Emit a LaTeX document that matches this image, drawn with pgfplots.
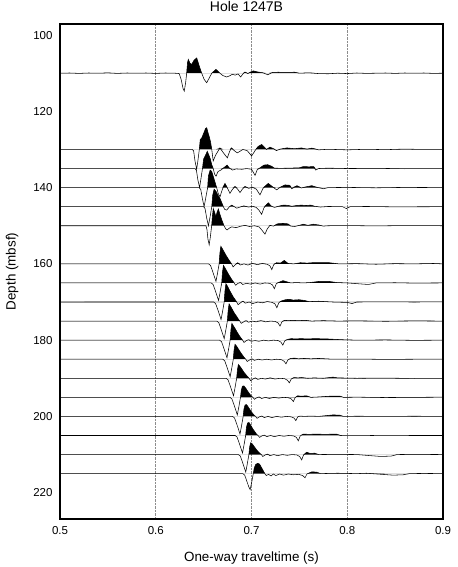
\documentclass[border=0pt]{standalone}
\usepackage{pgfplots}
\pgfplotsset{compat=1.18}
\usepackage{pgfplotstable}
\usepackage{fontspec}
\setmainfont{Liberation Sans}

\pgfplotstableread{
t a
0.500 0
0.510 0.05
0.520 -0.05
0.530 0.05
0.540 0
0.550 0.08
0.560 -0.05
0.570 0.05
0.580 0
0.590 0.05
0.600 -0.05
0.610 0.05
0.620 0
0.6245 -0.1
0.6265 -1.6
0.6285 -4.0
0.6298 -4.7
0.6312 -2.5
0.6323 0
0.6332 2.8
0.6340 3.6
0.6358 2.6
0.6375 2.3
0.6400 3.4
0.6428 4.0
0.6455 1.8
0.6480 0
0.6505 -1.6
0.6532 -2.5
0.6560 -1.2
0.6585 0
0.6629 1.0
0.6670 0
0.6700 -0.6
0.6741 -1.0
0.6770 -0.7
0.6800 -0.3
0.6830 -0.5
0.6860 -0.2
0.6887 -1.0
0.6910 -0.2
0.6932 0.3
0.6963 -0.1
0.6990 0.3
0.7019 0.6
0.7050 0.4
0.7071 0.3
0.7120 0.1
0.7170 -0.4
0.7220 0.2
0.7280 0.25
0.7350 0.2
0.7450 0.25
0.7500 0
0.7600 0.1
0.7700 -0.1
0.7800 -0.15
0.7900 0
0.8000 -0.1
0.8100 0.05
0.8200 -0.05
0.8300 0
0.8400 0.05
0.8500 -0.05
0.8600 0.05
0.8700 0
0.8800 0.05
0.8900 -0.05
0.9000 0
}\tA

\pgfplotstableread{
t a
0.500 0
0.638 0
0.6395 -0.3
0.641 -3.0
0.6427 -5.2
0.644 -3.0
0.6455 0
0.6465 2.6
0.6480 3.0
0.6500 4.2
0.6520 5.5
0.6532 5.7
0.6545 4.5
0.6560 3.2
0.6572 2.0
0.6585 0
0.6600 -3.0
0.6625 -1.5
0.6670 0.4
0.6710 -1.0
0.6748 -2.2
0.6770 -0.6
0.6790 0.4
0.6820 -0.3
0.6852 -0.9
0.6910 0
0.6955 -0.3
0.7001 -1.7
0.7040 -0.2
0.7070 0.8
0.7106 1.3
0.7135 0.6
0.7155 0
0.7193 0.6
0.7230 0.2
0.7260 -0.3
0.7300 0.1
0.7370 0.4
0.7450 0.2
0.7520 0.4
0.7580 0.1
0.7630 0.35
0.7700 -0.1
0.7800 0.05
0.8000 -0.1
0.8200 0.05
0.8400 -0.05
0.8600 0.1
0.8800 0
0.9000 0.05
}\tB

\pgfplotstableread{
t a
0.500 0
0.641 0
0.6425 -0.5
0.644 -3.0
0.6458 -5.0
0.647 -3.0
0.6488 0
0.650 2.5
0.652 3.5
0.6538 4.5
0.6555 3.5
0.657 2.5
0.6585 1.0
0.660 0
0.6615 -1.5
0.663 -2.0
0.665 -0.8
0.668 -0.4
0.671 0.2
0.6745 0.9
0.677 0.1
0.680 -0.4
0.684 -0.1
0.690 -0.2
0.695 0
0.700 -0.2
0.7015 -0.8
0.7037 -1.8
0.706 -0.3
0.709 0.2
0.713 0.9
0.717 1.0
0.721 0.6
0.724 0.1
0.730 0.05
0.740 0.1
0.750 0.2
0.754 0.5
0.760 0.45
0.765 0.5
0.767 -0.4
0.770 0
0.780 0.1
0.800 0
0.830 0.05
0.860 -0.05
0.900 0
}\tC

\pgfplotstableread{
t a
0.500 0
0.6455 0
0.647 -0.5
0.6488 -3.0
0.6505 -5.0
0.652 -3.0
0.6542 0
0.655 3.0
0.6568 4.6
0.6585 4.2
0.660 3.0
0.6618 1.5
0.6636 0
0.6652 -1.5
0.6671 -2.4
0.6695 -0.5
0.6723 1.1
0.675 -0.2
0.6775 -1.5
0.680 -0.5
0.6828 0.3
0.6855 -0.4
0.688 -1.3
0.6905 -0.4
0.6932 0.3
0.697 -0.2
0.701 0.1
0.705 -0.4
0.7089 -1.9
0.712 -0.2
0.7175 1.1
0.722 0.2
0.7263 -0.6
0.730 0.1
0.735 0.7
0.740 0.6
0.742 -0.3
0.7475 0.5
0.752 -0.1
0.757 0.2
0.763 0.5
0.768 0.1
0.775 -0.3
0.780 0
0.800 0.05
0.830 -0.05
0.860 0.05
0.900 0
}\tD

\pgfplotstableread{
t a
0.500 0
0.650 0
0.6515 -0.5
0.6532 -3.0
0.655 -5.0
0.6565 -3.0
0.6585 0
0.6595 3.0
0.661 4.6
0.663 4.0
0.665 3.0
0.667 2.2
0.669 1.0
0.6706 0
0.672 -0.7
0.6741 -0.9
0.677 0
0.6794 0.4
0.682 0
0.6846 -0.4
0.688 -0.1
0.692 0.2
0.697 -0.1
0.701 0.1
0.705 -0.2
0.708 -1.0
0.7106 -2.0
0.713 -0.3
0.7175 1.0
0.721 0.1
0.724 -0.2
0.728 0.1
0.733 0.4
0.738 0.35
0.742 0.1
0.747 0.3
0.752 0.4
0.757 0.3
0.762 0.4
0.766 0.1
0.772 -0.1
0.780 0.05
0.795 0
0.799 -0.5
0.803 0
0.820 0.05
0.850 -0.05
0.900 0
}\tE

\pgfplotstableread{
t a
0.500 0
0.6525 0
0.6535 -1.0
0.6545 -3.5
0.6558 -5.0
0.657 -3.0
0.6584 0
0.6592 2.5
0.6601 4.5
0.6615 3.5
0.6628 2.4
0.664 3.5
0.6654 4.4
0.667 3.0
0.669 1.5
0.6713 0
0.673 -0.8
0.6745 -1.1
0.677 -0.6
0.6794 -0.3
0.684 -0.5
0.689 -0.1
0.6932 0.1
0.698 -0.2
0.703 0
0.708 -0.3
0.711 -1.2
0.7141 -2.2
0.7165 -0.8
0.7193 0.1
0.723 -0.1
0.727 0.5
0.733 0.6
0.738 0.5
0.741 -0.1
0.745 -0.2
0.750 0.1
0.754 0.4
0.759 0.1
0.7645 0.4
0.770 0.2
0.775 -0.1
0.780 0
0.800 0.05
0.830 -0.05
0.860 0.05
0.900 0
}\tF

\pgfplotstableread{
t a
0.500 0
0.6552 0
0.6572 -0.4
0.6592 -1.8
0.6612 -3.3
0.6629 -4.6
0.6644 -2.6
0.6662 0
0.6670 2.8
0.6680 4.6
0.6697 3.9
0.6717 3.0
0.6737 2.1
0.6757 1.3
0.6777 0.55
0.6792 0
0.6807 -0.8
0.6832 -0.2
0.6857 0.3
0.6882 -0.3
0.6922 0
0.6962 -0.3
0.7012 0.1
0.7062 -0.2
0.7112 0.1
0.7162 -0.1
0.7192 -0.5
0.7212 -1.5
0.7232 -0.2
0.7262 0.3
0.7302 0.2
0.7342 0.9
0.7382 0.1
0.7442 0
0.7512 0.3
0.7582 0.2
0.7662 0.35
0.7812 0.3
0.7912 0
0.810 0.05
0.830 -0.1
0.850 0.05
0.870 0
0.890 0.1
0.900 0
}\tG

\pgfplotstableread{
t a
0.500 0
0.6579 0
0.6599 -0.4
0.6619 -1.8
0.6639 -3.3
0.6656 -4.6
0.6671 -2.6
0.6689 0
0.6697 2.8
0.6707 4.6
0.6724 3.9
0.6744 3.0
0.6764 2.1
0.6784 1.3
0.6804 0.55
0.6819 0
0.6834 -0.6
0.6859 -0.1
0.6884 0.1
0.6909 -0.4
0.6949 -0.1
0.6989 -0.3
0.7039 0
0.7089 -0.3
0.7139 0
0.7189 -0.1
0.7219 -0.5
0.7239 -1.5
0.7259 -0.2
0.7289 0.2
0.7329 0.6
0.7369 0.3
0.7409 0
0.7469 0.1
0.7539 0
0.7609 0.1
0.7709 0.4
0.7809 0.4
0.789 0.1
0.800 0
0.822 -0.4
0.830 0
0.850 0.05
0.870 -0.05
0.900 0
}\tH

\pgfplotstableread{
t a
0.500 0
0.6605 0
0.6625 -0.4
0.6645 -1.8
0.6665 -3.3
0.6682 -4.6
0.6697 -2.6
0.6715 0
0.6723 2.9
0.6733 4.8
0.6750 4.1
0.6770 3.1
0.6790 2.2
0.6810 1.3
0.6830 0.6
0.6845 0
0.6860 -0.7
0.6885 -0.2
0.6910 0.2
0.6935 -0.3
0.6975 0
0.7015 -0.4
0.7065 0
0.7115 -0.2
0.7165 0.1
0.7215 -0.1
0.7245 -0.5
0.7265 -1.5
0.7285 -0.2
0.7315 0.3
0.7355 0.6
0.7395 0.7
0.7435 0.5
0.7495 0.6
0.7555 0.4
0.7600 0.1
0.770 0.2
0.785 0
0.800 -0.1
0.805 -0.4
0.810 0
0.840 0.05
0.870 0
0.900 0.05
}\tI

\pgfplotstableread{
t a
0.500 0
0.6638 0
0.6658 -0.4
0.6678 -1.8
0.6698 -3.3
0.6715 -4.6
0.6730 -2.6
0.6748 0
0.6756 2.7
0.6766 4.5
0.6783 3.8
0.6803 2.9
0.6823 2.0
0.6843 1.3
0.6863 0.5
0.6878 0
0.6893 -0.6
0.6918 -0.2
0.6943 0.1
0.6968 -0.3
0.7008 0
0.7048 -0.2
0.7098 0.1
0.7148 -0.2
0.7198 0
0.7248 -0.1
0.7278 -0.5
0.7298 -1.3
0.7318 -0.2
0.7348 0.2
0.7388 0.1
0.7428 0.2
0.7488 0.1
0.7558 0.2
0.7628 0
0.775 0.1
0.790 0
0.810 0.05
0.840 -0.05
0.870 0.05
0.900 0
}\tJ

\pgfplotstableread{
t a
0.500 0
0.6667 0
0.6687 -0.4
0.6707 -1.8
0.6727 -3.3
0.6744 -4.6
0.6759 -2.6
0.6777 0
0.6785 2.6
0.6795 4.4
0.6812 3.7
0.6832 2.9
0.6852 2.0
0.6872 1.2
0.6892 0.5
0.6907 0
0.6922 -0.6
0.6947 -0.1
0.6972 0.1
0.6997 -0.3
0.7037 -0.1
0.7077 -0.3
0.7127 0
0.7177 -0.2
0.7227 0
0.7277 -0.1
0.7307 -0.5
0.7327 -1.3
0.7347 -0.2
0.7377 0.2
0.7417 0.4
0.7457 0.3
0.7517 0.4
0.7587 0.3
0.7657 0.4
0.7800 0.3
0.7958 0.1
0.810 0
0.840 0.05
0.870 -0.05
0.900 0
}\tK

\pgfplotstableread{
t a
0.500 0
0.6700 0
0.6720 -0.4
0.6740 -1.8
0.6760 -3.3
0.6777 -4.6
0.6792 -2.6
0.6810 0
0.6818 2.4
0.6828 3.9
0.6845 3.4
0.6865 2.6
0.6885 1.8
0.6905 1.1
0.6925 0.4
0.6940 0
0.6955 -0.6
0.6980 -0.2
0.7005 0.1
0.7030 -0.3
0.7070 0
0.7110 -0.2
0.7160 0
0.7210 -0.2
0.7260 0
0.7310 -0.1
0.7340 -0.5
0.7360 -1.2
0.7380 -0.2
0.7410 0.2
0.7450 0.3
0.7490 0.1
0.7550 0.2
0.7620 0.1
0.7700 0.2
0.785 0
0.810 0.05
0.840 -0.05
0.870 0
0.900 0.05
}\tL

\pgfplotstableread{
t a
0.500 0
0.6735 0
0.6755 -0.4
0.6775 -1.8
0.6795 -3.3
0.6812 -4.6
0.6827 -2.6
0.6845 0
0.6853 2.2
0.6863 3.6
0.6880 3.1
0.6900 2.4
0.6920 1.6
0.6940 1.0
0.6960 0.4
0.6975 0
0.6990 -0.6
0.7015 -0.2
0.7040 0.1
0.7065 -0.3
0.7105 0
0.7145 -0.2
0.7195 0.1
0.7245 -0.2
0.7295 0
0.7345 -0.1
0.7375 -0.5
0.7395 -1.2
0.7415 -0.2
0.7445 0.2
0.7485 0.1
0.7525 0.2
0.7585 0
0.7655 0.1
0.7750 0
0.7850 0.3
0.7900 0.1
0.810 0
0.840 0.05
0.870 -0.05
0.900 0
}\tM

\pgfplotstableread{
t a
0.500 0
0.6775 0
0.6795 -0.4
0.6815 -1.8
0.6835 -3.3
0.6852 -4.6
0.6867 -2.6
0.6885 0
0.6893 1.8
0.6905 2.9
0.6920 3.0
0.6940 2.4
0.6960 1.6
0.6980 0.9
0.7000 0.3
0.7015 0
0.7030 -0.5
0.7055 -0.1
0.7080 0.1
0.7105 -0.3
0.7145 0
0.7185 -0.3
0.7235 0
0.7285 -0.2
0.7335 0
0.7385 -0.1
0.7415 -0.4
0.7437 -1.1
0.7455 -0.1
0.7480 0.4
0.7520 0.3
0.7576 0.4
0.7620 0
0.7700 0.1
0.7820 0.3
0.7925 0.3
0.7960 0
0.810 0.05
0.840 -0.05
0.870 0
0.900 0.05
}\tN

\pgfplotstableread{
t a
0.500 0
0.6803 0
0.6823 -0.4
0.6843 -1.8
0.6863 -3.3
0.6880 -4.6
0.6895 -2.6
0.6913 0
0.6921 1.9
0.6933 3.0
0.6948 3.1
0.6968 2.4
0.6988 1.6
0.7008 0.9
0.7028 0.3
0.7043 0
0.7058 -0.5
0.7083 -0.1
0.7108 0.1
0.7133 -0.3
0.7173 0
0.7213 -0.3
0.7263 0
0.7313 -0.2
0.7363 0
0.7413 -0.1
0.7443 -0.4
0.7463 -1.1
0.7483 -0.1
0.7510 0.1
0.7550 0
0.7620 0.1
0.7700 0
0.7855 0.4
0.7925 0.3
0.7960 0
0.810 0.05
0.840 0
0.870 0.05
0.900 0
}\tO

\pgfplotstableread{
t a
0.500 0
0.6829 0
0.6849 -0.4
0.6869 -1.8
0.6889 -3.3
0.6906 -4.6
0.6921 -2.6
0.6939 0
0.6947 2.1
0.6959 3.3
0.6974 3.4
0.6994 2.6
0.7014 1.7
0.7034 1.0
0.7054 0.3
0.7069 0
0.7084 -0.5
0.7109 -0.1
0.7134 0.1
0.7159 -0.3
0.7199 0
0.7239 -0.3
0.7289 0
0.7339 -0.2
0.7389 0
0.7439 -0.1
0.7469 -0.5
0.7489 -1.4
0.7509 -0.1
0.7540 0.35
0.7600 0.3
0.7680 0.35
0.7760 0.3
0.7890 0.35
0.7930 0
0.810 0.05
0.840 -0.05
0.870 0
0.900 0
}\tP

\pgfplotstableread{
t a
0.500 0
0.6863 0
0.6883 -0.4
0.6903 -1.8
0.6923 -3.3
0.6940 -4.6
0.6955 -2.6
0.6973 0
0.6981 2.0
0.6991 3.1
0.7008 2.8
0.7028 2.1
0.7048 1.4
0.7068 0.8
0.7088 0.3
0.7103 0
0.7118 -0.5
0.7143 -0.1
0.7168 0.1
0.7193 -0.3
0.7233 0
0.7273 -0.3
0.7323 0
0.7373 -0.2
0.7423 0
0.7473 -0.1
0.7503 -0.5
0.7524 -1.4
0.7544 -0.1
0.7576 0.6
0.7610 0.3
0.7660 0.35
0.7700 0
0.790 0.05
0.810 0
0.835 -0.5
0.846 -0.4
0.852 0
0.870 0.05
0.900 0
}\tQ

\pgfplotstableread{
t a
0.500 0
0.6909 0
0.6929 -0.4
0.6949 -1.8
0.6969 -3.3
0.6986 -4.2
0.7001 -2.4
0.7019 0
0.7029 1.5
0.7044 2.4
0.7064 2.7
0.7084 2.5
0.7104 1.6
0.7124 0.7
0.7139 0
0.7154 -0.5
0.7179 -0.2
0.7204 -0.6
0.7229 -0.1
0.7254 -0.5
0.7294 -0.1
0.7334 -0.4
0.7384 -0.1
0.7434 -0.3
0.7494 -0.2
0.7534 -0.5
0.7559 -1.1
0.7579 -0.1
0.7628 0.45
0.7680 0.4
0.7720 0
0.790 0.1
0.810 0
0.820 0.1
0.848 -0.4
0.8585 -0.3
0.865 0
0.880 0.05
0.900 0
}\tR

\newcommand{\trace}[2]{%
  \addplot[fill=black, draw=none] table[x=t, y expr={#2-max(\thisrow{a},0)}] {#1} -- cycle;
  \addplot[black, line width=0.55pt] table[x=t, y expr={#2-\thisrow{a}}] {#1};
}

\begin{document}
\begin{tikzpicture}
\begin{axis}[
  width=383pt, height=495pt, scale only axis,
  xmin=0.5, xmax=0.9, ymin=97.1, ymax=226.9, y dir=reverse,
  xtick={0.5,0.6,0.7,0.8,0.9},
  ytick={100,120,140,160,180,200,220},
  xticklabel style={/pgf/number format/fixed, /pgf/number format/precision=1, yshift=-4pt},
  yticklabel style={xshift=-4pt},
  /pgf/number format/assume math mode=true,
  major tick length=0pt,
  xmajorgrids,
  grid style={densely dotted, black!45, line width=0.6pt},
  axis line style={line width=1.2pt},
  tick label style={font=\fontsize{11.5}{13}\selectfont},
  title={Hole 1247B},
  title style={font=\fontsize{14}{16}\selectfont, at={(axis description cs:0.487,1)}, anchor=center, yshift=12pt},
  xlabel={One-way traveltime (s)},
  xlabel style={font=\fontsize{13.4}{16}\selectfont, at={(axis description cs:0.5,0)}, anchor=center, yshift=-39pt},
  ylabel={Depth (mbsf)},
  ylabel style={font=\fontsize{13.4}{16}\selectfont, at={(axis description cs:-0.125,0.5)}, anchor=center},
  clip=true,
]
\trace{\tA}{110}
\trace{\tB}{130}
\trace{\tC}{135}
\trace{\tD}{140}
\trace{\tE}{145}
\trace{\tF}{150}
\trace{\tG}{160}
\trace{\tH}{165}
\trace{\tI}{170}
\trace{\tJ}{175}
\trace{\tK}{180}
\trace{\tL}{185}
\trace{\tM}{190}
\trace{\tN}{195}
\trace{\tO}{200}
\trace{\tP}{205}
\trace{\tQ}{210}
\trace{\tR}{215}
\coordinate (bl) at (rel axis cs:0,0);
\coordinate (tr) at (rel axis cs:1,1);
\end{axis}
\pgfresetboundingbox
\path ([shift={(-60pt,-48pt)}]bl) rectangle ([shift={(15pt,24pt)}]tr);
\end{tikzpicture}
\end{document}
